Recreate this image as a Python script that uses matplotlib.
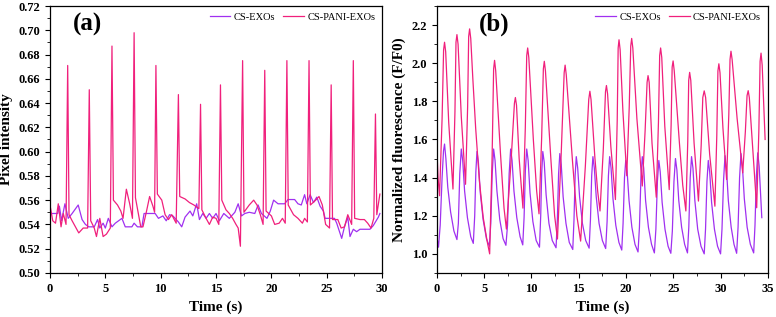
import matplotlib
matplotlib.use("Agg")
import matplotlib.pyplot as plt
from matplotlib.ticker import MultipleLocator

plt.rcParams['font.family'] = ['Liberation Serif', 'DejaVu Serif']

# ---- panel (a): pixel intensity ----
a_exo_t = [0.0, 0.7, 0.85, 1.05, 1.35, 1.65, 2.0, 2.55, 2.9, 3.2, 3.5, 4.0, 4.3, 4.5, 4.8, 5.0,
           5.27, 5.6, 5.9, 6.5, 6.8, 7.4, 7.6, 7.9, 8.3, 8.5, 9.5, 9.8, 10.2, 10.5, 10.8, 11.1,
           11.6, 11.9, 12.2, 12.65, 12.9, 13.25, 13.5, 13.8, 14.1, 14.4, 14.7, 15.0, 15.3, 15.7,
           16.2, 16.7, 17.0, 17.3, 17.6, 18.0, 18.5, 18.8, 19.1, 19.6, 19.9, 20.2, 20.6, 21.2,
           21.5, 22.1, 22.4, 22.7, 23.0, 23.2, 23.5, 23.8, 24.1, 24.4, 24.7, 24.85, 25.7, 25.9,
           26.35, 26.6, 26.9, 27.1, 27.4, 27.7, 28.0, 28.9, 29.2, 29.66, 29.8]
a_exo_v = [0.549, 0.549, 0.555, 0.543, 0.557, 0.545, 0.549, 0.556, 0.544, 0.540, 0.538, 0.538,
           0.544, 0.537, 0.541, 0.537, 0.545, 0.538, 0.541, 0.545, 0.538, 0.538, 0.541, 0.538,
           0.538, 0.549, 0.549, 0.545, 0.547, 0.543, 0.548, 0.547, 0.542, 0.538, 0.546, 0.551,
           0.547, 0.557, 0.544, 0.549, 0.545, 0.549, 0.545, 0.549, 0.543, 0.549, 0.545, 0.550,
           0.557, 0.547, 0.549, 0.550, 0.549, 0.556, 0.549, 0.545, 0.551, 0.560, 0.557, 0.557,
           0.5605, 0.5605, 0.557, 0.556, 0.5645, 0.557, 0.5645, 0.558, 0.5625, 0.555, 0.551,
           0.545, 0.545, 0.541, 0.5285, 0.538, 0.546, 0.530, 0.536, 0.534, 0.536, 0.536, 0.539,
           0.546, 0.549]

a_pani_t = [0.0, 0.25, 0.5, 0.75, 1.0, 1.2, 1.45, 1.6, 1.72, 2.0, 2.3, 2.6, 3.0, 3.4, 3.55, 3.68,
            4.0, 4.2, 4.5, 4.8, 5.1, 5.45, 5.6, 5.73, 6.1, 6.4, 6.6, 6.9, 7.2, 7.45, 7.6, 7.72,
            8.0, 8.2, 8.4, 8.7, 9.0, 9.3, 9.45, 9.57, 9.7, 10.1, 10.4, 10.7, 11.0, 11.4, 11.6,
            11.72, 12.2, 12.6, 13.0, 13.45, 13.6, 13.72, 14.1, 14.4, 14.7, 15.0, 15.25, 15.4,
            15.52, 15.9, 16.2, 16.5, 16.8, 17.0, 17.2, 17.4, 17.52, 18.0, 18.4, 18.7, 19.0,
            19.25, 19.4, 19.52, 20.0, 20.3, 20.7, 21.0, 21.25, 21.4, 21.52, 22.0, 22.4, 22.8,
            23.0, 23.25, 23.4, 23.52, 24.0, 24.3, 24.6, 24.9, 25.25, 25.4, 25.52, 26.0, 26.3,
            26.6, 26.9, 27.25, 27.4, 27.52, 28.0, 28.4, 28.7, 29.0, 29.25, 29.4, 29.52, 29.8]
a_pani_v = [0.556, 0.543, 0.541, 0.557, 0.538, 0.549, 0.540, 0.671, 0.548, 0.543, 0.538, 0.533,
            0.537, 0.537, 0.651, 0.543, 0.537, 0.530, 0.545, 0.530, 0.532, 0.537, 0.687, 0.560,
            0.556, 0.551, 0.545, 0.569, 0.557, 0.545, 0.698, 0.562, 0.548, 0.538, 0.538, 0.550,
            0.563, 0.555, 0.550, 0.671, 0.565, 0.560, 0.548, 0.544, 0.548, 0.541, 0.647, 0.563,
            0.561, 0.558, 0.556, 0.553, 0.639, 0.552, 0.545, 0.540, 0.546, 0.545, 0.540, 0.655,
            0.560, 0.552, 0.549, 0.545, 0.540, 0.537, 0.522, 0.675, 0.550, 0.556, 0.560, 0.556,
            0.548, 0.540, 0.667, 0.551, 0.547, 0.540, 0.541, 0.545, 0.541, 0.675, 0.556, 0.548,
            0.545, 0.541, 0.545, 0.542, 0.675, 0.556, 0.560, 0.563, 0.556, 0.540, 0.537, 0.655,
            0.544, 0.544, 0.537, 0.538, 0.548, 0.540, 0.675, 0.545, 0.544, 0.544, 0.541, 0.537,
            0.545, 0.631, 0.548, 0.565]

# ---- panel (b): normalized fluorescence ----
b_exo_t = [0.0, 0.17, 0.35, 0.55, 0.7, 0.81, 0.95, 1.15, 1.45, 1.8, 2.12,
           2.27, 2.42, 2.58, 2.73, 2.93, 3.23, 3.58, 3.85,
           4.0, 4.12, 4.24, 4.39, 4.59, 4.89, 5.24, 5.55,
           5.7, 5.85, 6.0, 6.15, 6.35, 6.65, 7.0, 7.3,
           7.47, 7.64, 7.8, 7.95, 8.15, 8.45, 8.8, 9.08,
           9.22, 9.36, 9.5, 9.65, 9.85, 10.15, 10.5, 10.85,
           10.98, 11.08, 11.2, 11.35, 11.55, 11.85, 12.2, 12.6,
           12.74, 12.87, 13.0, 13.15, 13.35, 13.65, 14.0, 14.37,
           14.5, 14.62, 14.74, 14.89, 15.09, 15.39, 15.74, 16.1,
           16.24, 16.37, 16.5, 16.65, 16.85, 17.15, 17.5, 17.85,
           18.0, 18.14, 18.27, 18.42, 18.62, 18.92, 19.25, 19.55,
           19.69, 19.84, 19.97, 20.12, 20.32, 20.62, 20.95, 21.27,
           21.42, 21.58, 21.72, 21.87, 22.07, 22.37, 22.7, 23.0,
           23.16, 23.32, 23.47, 23.62, 23.82, 24.12, 24.45, 24.74,
           24.9, 25.07, 25.23, 25.38, 25.58, 25.88, 26.2, 26.5,
           26.64, 26.79, 26.93, 27.08, 27.28, 27.58, 27.93, 28.27,
           28.41, 28.56, 28.7, 28.85, 29.05, 29.35, 29.68, 30.0,
           30.15, 30.32, 30.47, 30.62, 30.82, 31.12, 31.42, 31.7,
           31.85, 32.01, 32.16, 32.31, 32.51, 32.81, 33.15, 33.5,
           33.64, 33.79, 33.93, 34.08, 34.25, 34.36]
b_exo_v = [1.09, 1.035, 1.15, 1.40, 1.54, 1.576, 1.50, 1.35, 1.22, 1.12, 1.075,
           1.16, 1.42, 1.55, 1.49, 1.33, 1.19, 1.09, 1.055,
           1.20, 1.43, 1.537, 1.48, 1.32, 1.18, 1.08, 1.04,
           1.16, 1.42, 1.55, 1.49, 1.33, 1.18, 1.08, 1.045,
           1.15, 1.42, 1.55, 1.49, 1.33, 1.19, 1.09, 1.047,
           1.19, 1.44, 1.55, 1.49, 1.32, 1.17, 1.07, 1.035,
           1.20, 1.42, 1.537, 1.48, 1.31, 1.16, 1.07, 1.032,
           1.18, 1.42, 1.526, 1.47, 1.30, 1.16, 1.06, 1.023,
           1.18, 1.41, 1.51, 1.45, 1.30, 1.16, 1.07, 1.03,
           1.18, 1.41, 1.51, 1.45, 1.30, 1.16, 1.07, 1.028,
           1.17, 1.41, 1.51, 1.45, 1.29, 1.15, 1.06, 1.02,
           1.16, 1.40, 1.49, 1.43, 1.28, 1.14, 1.05, 1.01,
           1.14, 1.40, 1.51, 1.45, 1.28, 1.14, 1.05, 1.005,
           1.13, 1.38, 1.49, 1.43, 1.27, 1.13, 1.04, 1.003,
           1.12, 1.38, 1.50, 1.44, 1.28, 1.14, 1.05, 1.005,
           1.14, 1.40, 1.51, 1.45, 1.28, 1.13, 1.04, 1.0,
           1.13, 1.38, 1.49, 1.43, 1.27, 1.13, 1.04, 1.0,
           1.13, 1.39, 1.515, 1.45, 1.28, 1.14, 1.05, 1.003,
           1.14, 1.40, 1.526, 1.46, 1.29, 1.14, 1.05, 1.005,
           1.15, 1.41, 1.53, 1.46, 1.30, 1.19]

b_pani_t = [0.0, 0.12, 0.28, 0.55, 0.71, 0.81, 0.93, 1.25, 1.7,
            1.91, 2.02, 2.12, 2.24, 2.58, 3.03,
            3.25, 3.36, 3.46, 3.58, 3.8, 4.1, 4.5, 4.9, 5.3, 5.58,
            5.84, 6.0, 6.1, 6.22, 6.72, 7.1, 7.35,
            7.83, 8.2, 8.3, 8.42, 8.7, 9.1,
            9.35, 9.5, 9.6, 9.72, 10.2, 10.55, 10.8,
            11.08, 11.26, 11.36, 11.48, 12.05, 12.45, 12.75,
            13.15, 13.46, 13.56, 13.68, 14.35, 14.8, 15.2,
            15.7, 16.06, 16.18, 16.3, 16.7, 17.0, 17.25,
            17.6, 17.83, 17.93, 18.05, 18.4, 18.88,
            19.07, 19.17, 19.26, 19.38, 19.67, 20.08,
            20.34, 20.5, 20.6, 20.72, 21.15, 21.72,
            22.02, 22.23, 22.33, 22.45, 22.75, 23.2,
            23.43, 23.56, 23.66, 23.78, 24.1, 24.57,
            24.77, 24.88, 24.98, 25.1, 25.65, 26.0, 26.33,
            26.53, 26.63, 26.73, 26.85, 27.2, 27.66,
            27.95, 28.12, 28.27, 28.42, 28.85, 29.4,
            29.6, 29.72, 29.82, 29.94, 30.25, 30.64,
            30.87, 31.0, 31.1, 31.22, 31.75, 32.34,
            32.62, 32.8, 32.92, 33.04, 33.4, 33.82,
            34.05, 34.18, 34.28, 34.4, 34.71]
b_pani_v = [1.55, 1.40, 1.305, 1.71, 2.07, 2.11, 2.06, 1.69, 1.34,
            1.745, 2.11, 2.15, 2.10, 1.72, 1.365,
            1.77, 2.14, 2.18, 2.13, 1.92, 1.66, 1.38, 1.19, 1.07, 1.0,
            1.51, 1.97, 2.015, 1.96, 1.53, 1.24, 1.13,
            1.475, 1.79, 1.82, 1.78, 1.50, 1.24,
            1.66, 2.04, 2.08, 2.03, 1.60, 1.33, 1.21,
            1.61, 1.97, 2.01, 1.96, 1.50, 1.20, 1.078,
            1.53, 1.95, 1.99, 1.94, 1.48, 1.20, 1.067,
            1.46, 1.81, 1.853, 1.81, 1.51, 1.33, 1.225,
            1.55, 1.85, 1.883, 1.84, 1.56, 1.285,
            1.70, 2.08, 2.123, 2.07, 1.75, 1.41,
            1.77, 2.09, 2.13, 2.08, 1.71, 1.356,
            1.645, 1.90, 1.935, 1.90, 1.58, 1.297,
            1.69, 2.04, 2.08, 2.03, 1.67, 1.337,
            1.675, 1.98, 2.012, 1.96, 1.58, 1.36, 1.225,
            1.59, 1.91, 1.952, 1.91, 1.58, 1.277,
            1.57, 1.82, 1.855, 1.82, 1.52, 1.25,
            1.62, 1.96, 1.997, 1.95, 1.66, 1.39,
            1.73, 2.02, 2.063, 2.02, 1.71, 1.425,
            1.64, 1.83, 1.856, 1.82, 1.55, 1.242,
            1.65, 2.01, 2.053, 1.99, 1.60]

series_names = ["CS-EXOs", "CS-PANI-EXOs"]
c_exo = "#a030f0"
c_pani = "#f0207c"

fig = plt.figure(figsize=(7.76, 3.17), dpi=100)
ax1 = fig.add_axes([0.0644, 0.139, 0.428, 0.842])
ax2 = fig.add_axes([0.563, 0.139, 0.4265, 0.842])

ax1.plot(a_exo_t, a_exo_v, color=c_exo, lw=0.9, label=series_names[0])
ax1.plot(a_pani_t, a_pani_v, color=c_pani, lw=0.9, label=series_names[1])
ax2.plot(b_exo_t, b_exo_v, color=c_exo, lw=0.9, label=series_names[0])
ax2.plot(b_pani_t, b_pani_v, color=c_pani, lw=0.9, label=series_names[1])

ax1.set_xlim(0, 30)
ax1.set_ylim(0.50, 0.72)
ax1.xaxis.set_major_locator(MultipleLocator(5))
ax1.xaxis.set_minor_locator(MultipleLocator(2.5))
ax1.yaxis.set_major_locator(MultipleLocator(0.02))
ax1.yaxis.set_minor_locator(MultipleLocator(0.01))
ax1.set_ylabel("Pixel intensity", fontsize=11, fontweight="bold", labelpad=4)

ax2.set_xlim(0, 35)
ax2.set_ylim(0.9, 2.3)
ax2.xaxis.set_major_locator(MultipleLocator(5))
ax2.xaxis.set_minor_locator(MultipleLocator(2.5))
ax2.set_yticks([1.0, 1.2, 1.4, 1.6, 1.8, 2.0, 2.2])
ax2.yaxis.set_minor_locator(MultipleLocator(0.1))
ax2.set_ylabel("Normalized fluorescence (F/F0)", fontsize=11, fontweight="bold", labelpad=4)

for ax, lab in [(ax1, "(a)"), (ax2, "(b)")]:
    ax.set_xlabel("Time (s)", fontsize=11, fontweight="bold", labelpad=4)
    ax.tick_params(which="major", direction="out", length=3.5, width=0.8, labelsize=9)
    ax.tick_params(which="minor", direction="out", length=2, width=0.6)
    for t in ax.get_xticklabels() + ax.get_yticklabels():
        t.set_fontweight("bold")
    for s in ax.spines.values():
        s.set_linewidth(0.9)
    ax.legend(loc="upper right", ncol=2, frameon=False, fontsize=7.5, handlelength=2.0,
              columnspacing=0.8, handletextpad=0.3, borderaxespad=0.25)

ax1.text(0.07, 0.93, "(a)", transform=ax1.transAxes, fontsize=18, fontweight="bold", va="center")
ax2.text(0.127, 0.93, "(b)", transform=ax2.transAxes, fontsize=18, fontweight="bold", va="center")

fig.savefig("out.png", dpi=100)
